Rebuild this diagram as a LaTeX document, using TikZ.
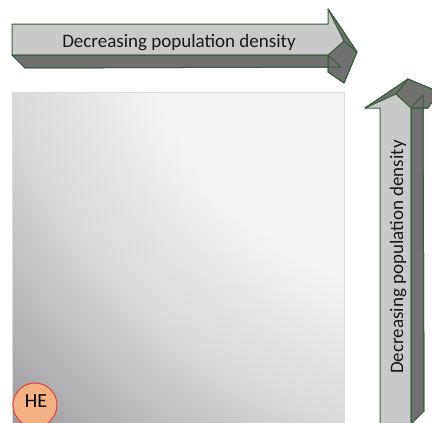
\documentclass[tikz,border=0pt]{standalone}
\usepackage{fontspec}
\setmainfont{Carlito}
\definecolor{arrowface}{RGB}{201,201,201}
\definecolor{arrowshade}{RGB}{112,112,112}
\definecolor{arrowedge}{RGB}{58,96,62}
\definecolor{panelrule}{RGB}{218,218,220}
\definecolor{hefill}{RGB}{244,177,131}
\definecolor{hedraw}{RGB}{232,62,62}
\newcommand{\AxisFont}{\fontsize{19}{23}\selectfont}
\tikzset{
  face/.style={fill=arrowface, draw=arrowedge, line width=1pt, line join=round},
  side/.style={fill=arrowshade, draw=arrowedge, line width=1pt, line join=round},
  edge/.style={draw=arrowedge, line width=1pt, line join=round},
  axislabel/.style={font=\AxisFont, text=black!90, inner sep=0pt},
  hebubble/.style={circle, fill=hefill, draw=hedraw, line width=1pt, minimum size=44pt, inner sep=0pt}
}
\begin{document}
\begin{tikzpicture}[x=1pt, y=-1pt]
  \useasboundingbox (0,0) rectangle (432,423);
  % density panel, light towards the top right corner
  \begin{scope}
    \clip (12,92) rectangle (344,424);
    \foreach \r in {693,690,...,210} {
      \pgfmathsetmacro{\g}{\r<370 ? 244 : (\r<447 ? 244-(\r-370)*0.208 : (\r<505 ? 228-(\r-447)*0.172 : (\r<545 ? 218-(\r-505)*0.375 : (\r<610 ? 203-(\r-545)*0.323 : 182-(\r-610)*0.375))))}
      \pgfmathsetmacro{\b}{min(\g+2,255)}
      \definecolor{ring}{RGB}{\g,\g,\b}
      \fill[ring] (494,-58) circle (\r);
    }
  \end{scope}
  \draw[panelrule, line width=1pt] (12,92) rectangle (344,424);
  \node[hebubble] (he) at (35,405) {};
  \node[font=\fontsize{20}{24}\selectfont, anchor=base, inner sep=0pt] (helbl) at (36,407) {HE};
  % horizontal arrow
  \fill[side] (12,55) -- (328,55) -- (341,67) -- (25,68) -- cycle;
  \fill[side] (344,41) -- (357,52) -- (344,83) -- (328,72) -- (328,55) -- cycle;
  \fill[side] (328,9) -- (339,25) -- (357,52) -- (344,41) -- cycle;
  \filldraw[face] (12,24) -- (328,24) -- (328,9) -- (344,41) -- (328,55) -- (12,55) -- cycle;
  \draw[edge] (12,55) -- (328,55) -- (341,67) -- (25,68) -- cycle;
  \draw[edge] (344,41) -- (357,52) -- (344,83) -- (328,72) -- (328,55);
  \draw[edge] (328,9) -- (339,25) -- (357,52);
  \node[axislabel, anchor=base] (xlabel) at (179,47) {Decreasing population density};
  % vertical arrow
  \fill[side] (411,424) -- (411,108) -- (423,95) -- (424,411) -- cycle;
  \fill[side] (396,94) -- (408,79) -- (439,92) -- (428,108) -- (411,108) -- cycle;
  \fill[side] (365,108) -- (377,100) -- (408,79) -- (396,94) -- cycle;
  \filldraw[face] (380,424) -- (380,108) -- (365,108) -- (396,94) -- (411,108) -- (411,424);
  \draw[edge] (411,424) -- (411,108) -- (423,95) -- (424,411) -- cycle;
  \draw[edge] (396,94) -- (408,79) -- (439,92) -- (428,108) -- (411,108);
  \draw[edge] (365,108) -- (377,100) -- (408,79);
  \node[axislabel, anchor=base, rotate=90] (ylabel) at (403,257) {Decreasing population density};
\end{tikzpicture}
\end{document}
